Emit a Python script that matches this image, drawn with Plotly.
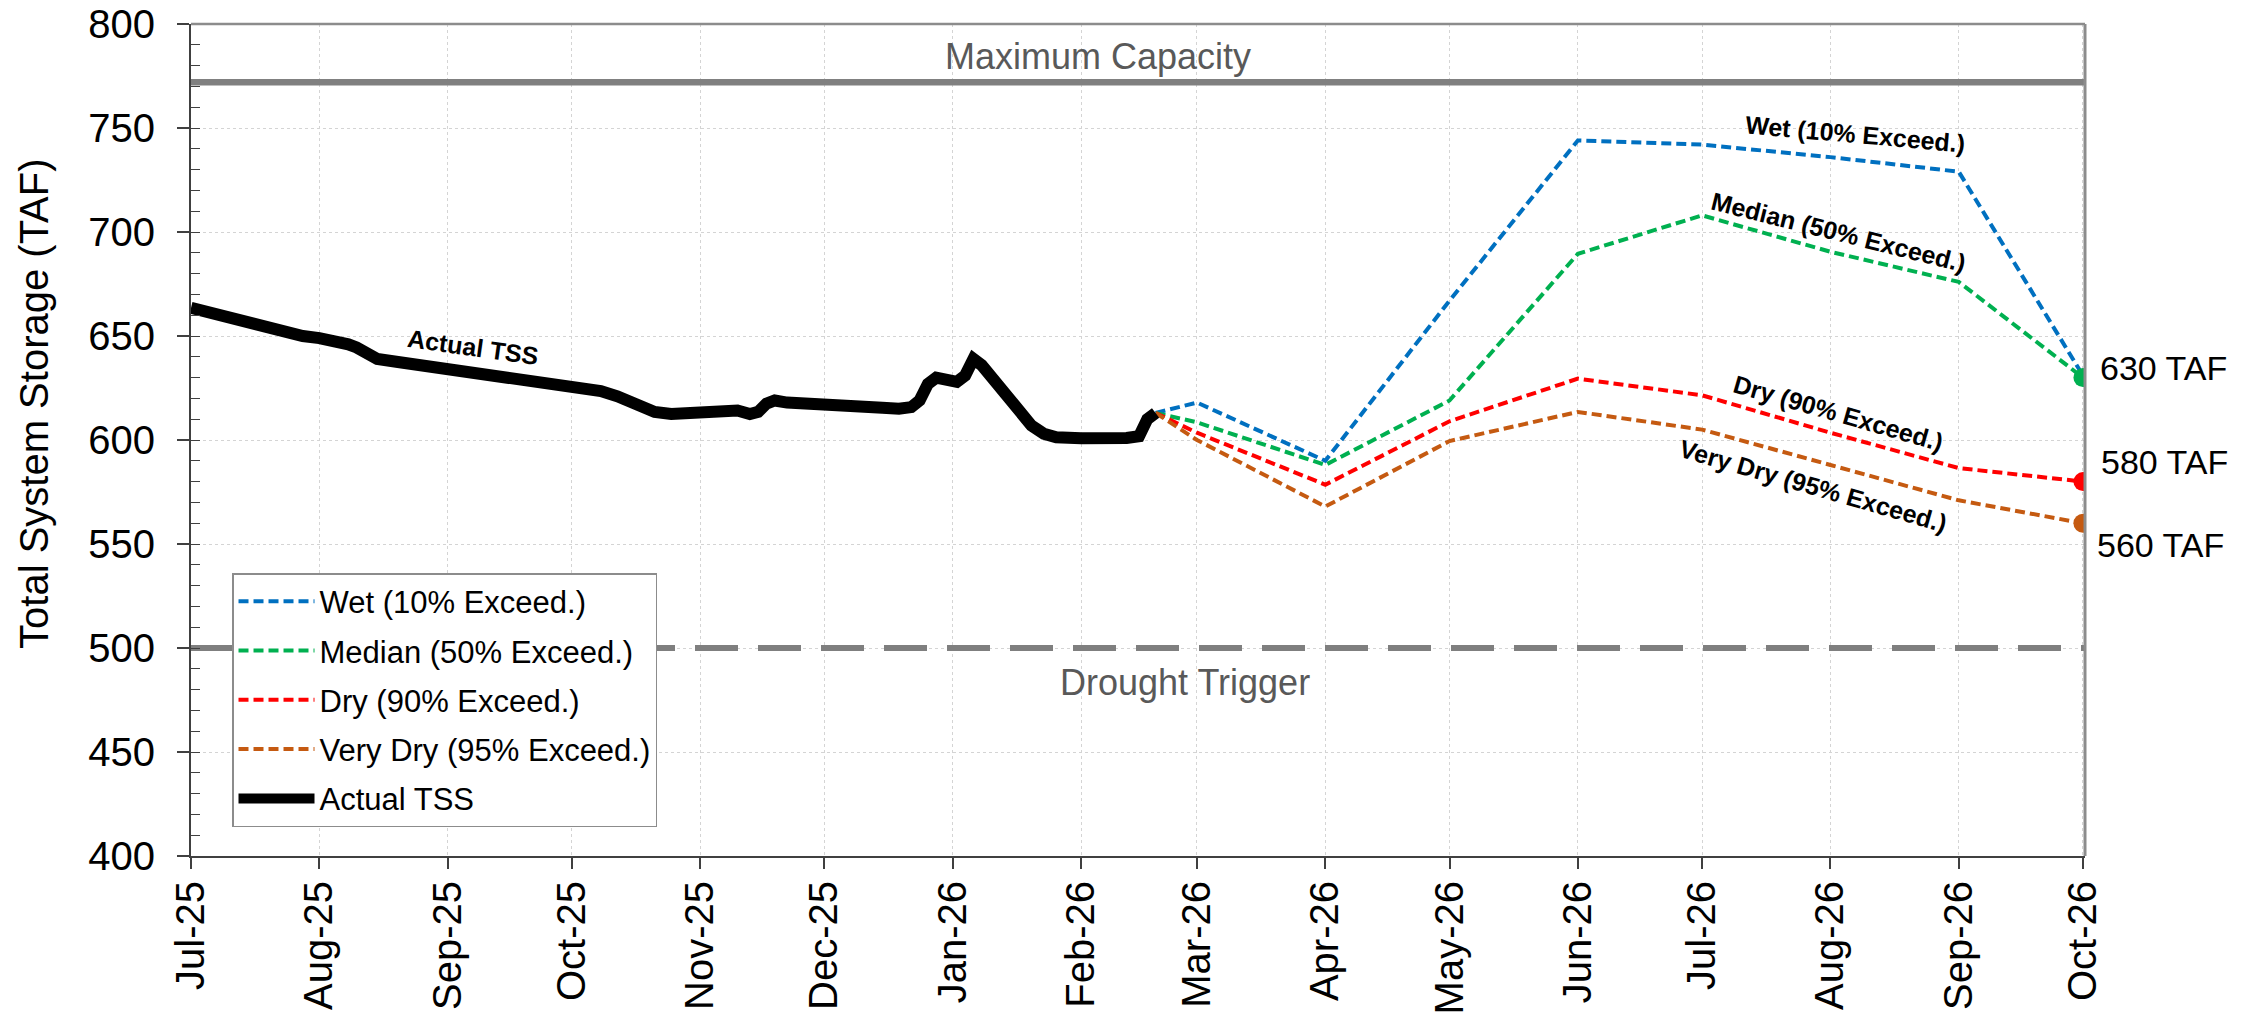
import plotly.graph_objects as go

FONT = "Arial, 'Liberation Sans', sans-serif"

# ---------------- data ----------------
tss_dates = [
    "2025-07-01", "2025-07-05", "2025-07-09", "2025-07-13", "2025-07-15", "2025-07-17",
    "2025-07-20", "2025-07-24", "2025-07-28", "2025-08-01", "2025-08-05", "2025-08-08",
    "2025-08-10", "2025-08-13", "2025-08-15", "2025-08-20", "2025-08-25", "2025-09-01",
    "2025-09-08", "2025-09-15", "2025-09-22", "2025-09-28", "2025-10-01", "2025-10-04",
    "2025-10-08", "2025-10-12", "2025-10-17", "2025-10-21", "2025-10-25", "2025-10-29",
    "2025-11-01", "2025-11-05", "2025-11-08", "2025-11-10", "2025-11-13", "2025-11-15",
    "2025-11-17", "2025-11-19", "2025-11-22", "2025-11-26", "2025-12-01", "2025-12-06",
    "2025-12-10", "2025-12-15", "2025-12-19", "2025-12-22", "2025-12-24", "2025-12-26",
    "2025-12-28", "2025-12-31", "2026-01-02", "2026-01-04", "2026-01-06", "2026-01-08",
    "2026-01-11", "2026-01-14", "2026-01-17", "2026-01-20", "2026-01-23", "2026-01-26",
    "2026-02-01", "2026-02-05", "2026-02-09", "2026-02-12", "2026-02-15", "2026-02-17",
    "2026-02-19",
]
tss_values = [
    663.5, 661.5, 659.8, 658.0, 656.5, 655.0,
    654.0, 651.5, 650.0, 649.0, 647.8, 646.0,
    644.5, 641.0, 639.0, 637.5, 636.0, 634.0,
    632.0, 630.5, 628.5, 626.5, 625.5, 625.3,
    623.5, 621.0, 617.0, 613.5, 612.5, 613.0,
    613.8, 614.0, 613.5, 614.2, 612.5, 613.5,
    617.5, 619.0, 618.0, 617.8, 617.5, 616.5,
    616.0, 615.5, 615.0, 615.8, 619.0, 627.0,
    630.0, 628.0, 628.0, 631.0, 639.0, 636.0,
    628.5, 620.0, 613.5, 607.0, 603.0, 601.3,
    600.8, 600.5, 600.2, 601.0, 601.8, 610.0,
    613.0,
]

fc_dates = ["2026-02-19", "2026-03-01", "2026-04-01", "2026-05-01", "2026-06-01",
            "2026-07-01", "2026-08-01", "2026-09-01", "2026-10-01"]
wet = [613, 618, 590, 667, 744, 742, 736, 729, 631]
median = [613, 608.5, 588, 619, 689.5, 708, 690.5, 676, 630]
dry = [613, 603.5, 578.5, 609, 629.5, 621.5, 603.5, 586.5, 580]
very_dry = [613, 600, 568, 599.5, 613.5, 605, 588, 571, 560]

scenario_names = ["Wet (10% Exceed.)", "Median (50% Exceed.)",
                  "Dry (90% Exceed.)", "Very Dry (95% Exceed.)"]
scenario_values = [wet, median, dry, very_dry]
scenario_colors = ["#0070C0", "#00B050", "#FF0000", "#C55A11"]

max_capacity = 772
drought_trigger = 500
ref_dates = ["2025-07-01", "2026-10-01 12:00"]
x_range = ["2025-07-01", "2026-10-01 12:00"]
y_range = [400, 800]

# ---------------- figure ----------------
fig = go.Figure()

fig.add_trace(go.Scatter(x=ref_dates, y=[max_capacity] * 2, mode="lines",
                         line=dict(color="#808080", width=6.5),
                         showlegend=False, hoverinfo="skip"))
fig.add_trace(go.Scatter(x=ref_dates, y=[drought_trigger] * 2, mode="lines",
                         line=dict(color="#7f7f7f", width=6, dash="43px,20px"),
                         showlegend=False, hoverinfo="skip"))

for i, (name, vals, color) in enumerate(zip(scenario_names, scenario_values, scenario_colors)):
    fig.add_trace(go.Scatter(x=fc_dates, y=vals, mode="lines", name=name,
                             line=dict(color=color, width=4, dash="10px,5px"),
                             legendrank=i + 1, legendgroup=f"g{i}"))

fig.add_trace(go.Scatter(x=tss_dates, y=tss_values, mode="lines", name="Actual TSS",
                         line=dict(color="black", width=12), legendrank=5,
                         legendgroup="g4"))

# end-point markers (median, dry, very dry)
for vals, color in zip(scenario_values[1:], scenario_colors[1:]):
    fig.add_trace(go.Scatter(x=[fc_dates[-1]], y=[vals[-1]], mode="markers",
                             marker=dict(color=color, size=19),
                             showlegend=False, hoverinfo="skip"))

annotations = []
# end labels
end_shifts = [(15, 10), (16, 20), (12, -22)]
for vals, (dx, dy) in zip(scenario_values[1:], end_shifts):
    annotations.append(dict(x=fc_dates[-1], y=vals[-1], text=f"{vals[-1]:.0f} TAF",
                            showarrow=False, xanchor="left", yanchor="middle",
                            xshift=dx, yshift=dy,
                            font=dict(family=FONT, size=34, color="black")))

# series labels on the chart
series_labels = [
    ("Wet (10% Exceed.)", "2026-08-07", 747.1, 5),
    ("Median (50% Exceed.)", "2026-08-03", 700.0, 14),
    ("Dry (90% Exceed.)", "2026-08-03", 613.0, 16),
    ("Very Dry (95% Exceed.)", "2026-07-28", 578.0, 16),
    ("Actual TSS", "2025-09-07", 644.7, 8),
]
for text, xd, yv, ang in series_labels:
    annotations.append(dict(x=xd, y=yv, text=f"<b>{text}</b>", showarrow=False,
                            textangle=ang, xanchor="center", yanchor="middle",
                            font=dict(family=FONT, size=25, color="black")))

annotations.append(dict(x="2026-02-05", y=784.4, text="Maximum Capacity", showarrow=False,
                        xanchor="center", yanchor="middle",
                        font=dict(family=FONT, size=36, color="#595959")))
annotations.append(dict(x="2026-02-26", y=483.4, text="Drought Trigger", showarrow=False,
                        xanchor="center", yanchor="middle",
                        font=dict(family=FONT, size=36, color="#595959")))
annotations.append(dict(xref="paper", x=-0.0829, y=617.8, text="Total System Storage (TAF)",
                        showarrow=False, textangle=-90, xanchor="center", yanchor="middle",
                        font=dict(family=FONT, size=40, color="black")))

fig.update_layout(
    width=2254, height=1019,
    margin=dict(l=191, r=169, t=24, b=163, pad=0, autoexpand=False),
    paper_bgcolor="white", plot_bgcolor="white",
    font=dict(family=FONT, color="black"),
    showlegend=True,
    legend=dict(x=0.02165, y=0.3401, xanchor="left", yanchor="top",
                bgcolor="white", bordercolor="#8c8c8c", borderwidth=1.5,
                font=dict(family=FONT, size=31, color="black"),
                itemwidth=76, traceorder="grouped", tracegroupgap=6),
    annotations=annotations,
    xaxis=dict(type="date", range=x_range, tickformat="%b-%y", dtick="M1",
               tick0="2025-07-01", tickangle=-90, ticks="outside", ticklen=11,
               tickwidth=1.5, tickcolor="#404040", ticklabelstandoff=-4,
               ticklabeloverflow="allow", automargin=False,
               tickfont=dict(family=FONT, size=40, color="black"),
               showgrid=True, gridcolor="#d4d4d4", griddash="dot", gridwidth=1,
               showline=True, linecolor="#404040", linewidth=2, zeroline=False),
    xaxis2=dict(type="date", range=x_range, dtick="M1", tick0="2025-07-01",
                overlaying="x", anchor="y", side="bottom", ticks="inside", ticklen=14,
                tickwidth=1.5, tickcolor="#404040", showticklabels=False,
                automargin=False,
                showgrid=False, showline=False, zeroline=False),
    yaxis=dict(range=y_range, dtick=50, ticks="outside", ticklen=12, tickwidth=1.5,
               tickcolor="#404040", ticklabelstandoff=14, automargin=False,
               ticklabeloverflow="allow",
               tickfont=dict(family=FONT, size=40, color="black"),
               minor=dict(ticks="inside", ticklen=9, dtick=10, tickwidth=1.2,
                          tickcolor="#404040", showgrid=False),
               showgrid=True, gridcolor="#d4d4d4", griddash="dot", gridwidth=1,
               showline=True, linecolor="#404040", linewidth=2, zeroline=False),
    yaxis2=dict(range=y_range, dtick=50, overlaying="y", anchor="x", side="left",
                ticks="inside", ticklen=13, tickwidth=1.5, tickcolor="#404040",
                showticklabels=False, automargin=False,
                showgrid=False, showline=False, zeroline=False),
    shapes=[
        dict(type="line", xref="paper", yref="paper", x0=0, x1=1, y0=1, y1=1,
             line=dict(color="#8c8c8c", width=2.5)),
        dict(type="line", xref="paper", yref="paper", x0=1, x1=1, y0=0, y1=1,
             line=dict(color="#8c8c8c", width=3)),
    ],
)

# remove the browser's default 8px page margin so the figure fills the window exactly
fig.write_html("out.html",
               config={"displayModeBar": False},
               post_script="document.body.style.margin='0';document.body.style.overflow='hidden';")
